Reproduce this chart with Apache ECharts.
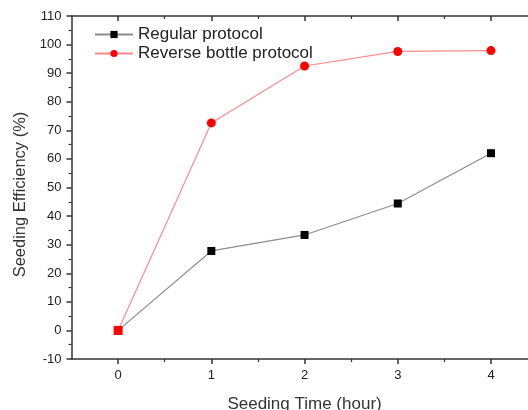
<!DOCTYPE html>
<html>
<head>
<meta charset="utf-8">
<script src="https://cdn.jsdelivr.net/npm/echarts@6/dist/echarts.min.js"></script>
<style>html,body{margin:0;padding:0;background:#fff;}#c{width:528px;height:410px;}</style>
</head>
<body>
<div id="c"></div>
<script>
const seedingTime = [0, 1, 2, 3, 4];
const regularProtocol = [0, 27.8, 33.4, 44.4, 62.0];
const reverseBottleProtocol = [0, 72.6, 92.5, 97.6, 97.9];
const xMajorTicks = [0, 1, 2, 3, 4];
const xMinorTicks = [0.5, 1.5, 2.5, 3.5];
const seriesNames = ['Regular protocol', 'Reverse bottle protocol'];

const font = 'Liberation Sans, Arial, sans-serif';
const axisColor = '#333';
const xBase = { type: 'value', min: -0.5, max: 4.5, splitLine: { show: false } };

const chart = echarts.init(document.getElementById('c'), null, { renderer: 'canvas' });
chart.setOption({
  animation: false,
  backgroundColor: '#fff',
  grid: { left: 71.5, right: -9.6, top: 16, bottom: 51, containLabel: false, outerBoundsMode: 'none' },
  legend: {
    left: 94, top: 26, padding: 0, orient: 'vertical', itemGap: 2, itemWidth: 38, itemHeight: 9,
    textStyle: { fontFamily: font, fontSize: 17, color: '#222' },
    data: seriesNames
  },
  xAxis: [
    Object.assign({}, xBase, {
      position: 'bottom', name: 'Seeding Time (hour)', nameLocation: 'middle', nameGap: 37,
      nameTextStyle: { fontFamily: font, fontSize: 17, color: '#333' },
      axisLine: { show: true, onZero: false, lineStyle: { color: axisColor, width: 1.5 } },
      axisTick: { show: true, length: 5, customValues: xMajorTicks, lineStyle: { color: axisColor, width: 1.5 } },
      axisLabel: { customValues: xMajorTicks, fontFamily: font, fontSize: 13, color: '#222', margin: 10 }
    }),
    Object.assign({}, xBase, {
      position: 'bottom',
      axisLine: { show: false, onZero: false },
      axisTick: { show: true, length: 3, customValues: xMinorTicks, lineStyle: { color: axisColor, width: 1.2 } },
      axisLabel: { show: false }
    }),
    Object.assign({}, xBase, {
      position: 'top',
      axisLine: { show: true, onZero: false, lineStyle: { color: axisColor, width: 1.5 } },
      axisTick: { show: true, inside: true, length: 5, customValues: xMajorTicks, lineStyle: { color: axisColor, width: 1.5 } },
      axisLabel: { show: false }
    }),
    Object.assign({}, xBase, {
      position: 'top',
      axisLine: { show: false, onZero: false },
      axisTick: { show: true, inside: true, length: 3, customValues: xMinorTicks, lineStyle: { color: axisColor, width: 1.2 } },
      axisLabel: { show: false }
    })
  ],
  yAxis: {
    type: 'value', min: -10, max: 110, interval: 10,
    name: 'Seeding Efficiency (%)', nameLocation: 'middle', nameGap: 43, nameRotate: 90,
    nameTextStyle: { fontFamily: font, fontSize: 16.5, color: '#333', padding: [0, 14, 0, 0] },
    axisLine: { show: true, onZero: false, lineStyle: { color: axisColor, width: 1.5 } },
    axisTick: { show: true, length: 5, lineStyle: { color: axisColor, width: 1.5 } },
    minorTick: { show: true, splitNumber: 2, length: 3, lineStyle: { color: axisColor, width: 1.2 } },
    axisLabel: { fontFamily: font, fontSize: 13, color: '#222', margin: 10 },
    splitLine: { show: false }
  },
  series: [
    {
      name: seriesNames[0], type: 'line', xAxisIndex: 0,
      data: seedingTime.map((t, i) => [t, regularProtocol[i]]),
      symbol: 'rect', symbolSize: 8,
      lineStyle: { color: '#8c8c8c', width: 1.2 },
      itemStyle: { color: '#000' }
    },
    {
      name: seriesNames[1], type: 'line', xAxisIndex: 0,
      data: seedingTime.map((t, i) => i === 0 ? { value: [t, reverseBottleProtocol[i]], symbol: 'rect', symbolSize: 9 } : [t, reverseBottleProtocol[i]]),
      symbol: 'circle', symbolSize: 9,
      lineStyle: { color: '#ff8a8a', width: 1.2 },
      itemStyle: { color: '#ff0000' }
    }
  ]
});
</script>
</body>
</html>
